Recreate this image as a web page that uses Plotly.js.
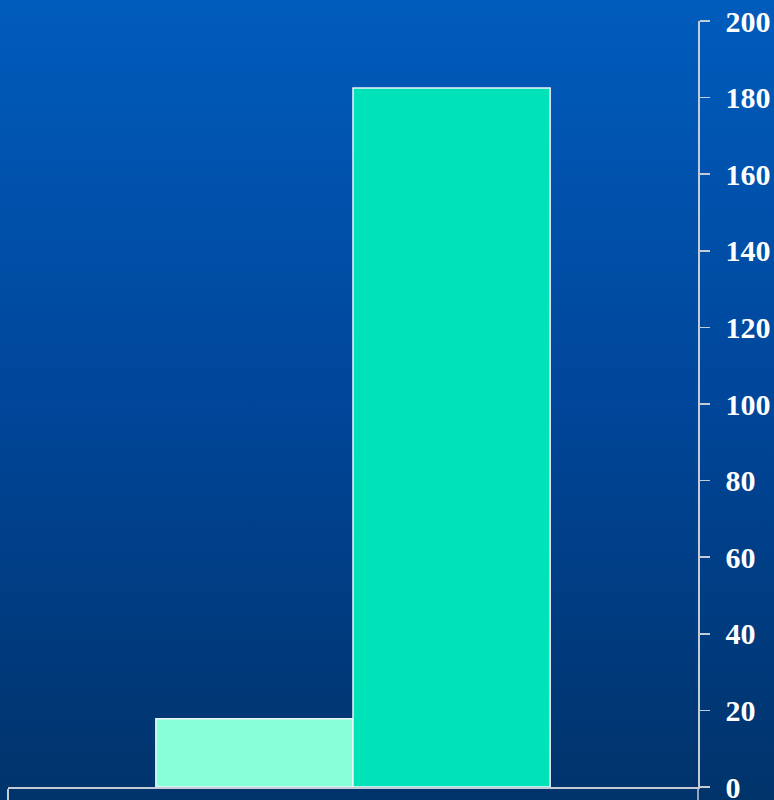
<!DOCTYPE html>
<html>
<head>
<meta charset="utf-8">
<script src="https://cdn.plot.ly/plotly-3.0.1.min.js"></script>
<style>
html, body { margin:0; padding:0; width:774px; height:800px; overflow:hidden;
  background: linear-gradient(to bottom, #005cbc 0%, #00469a 50%, #00336a 100%); }
#chart { width:774px; height:800px; }
</style>
</head>
<body>
<div id="chart"></div>
<script>
const categories = [0, 1];
const values = [17.8, 182.5];
const barColors = ['#88ffd8', '#00e3b8'];
const yTicks = [0, 20, 40, 60, 80, 100, 120, 140, 160, 180, 200];

const trace = {
  type: 'bar',
  x: categories,
  y: values,
  width: 1,
  marker: { color: barColors, line: { color: '#eef4fa', width: 1.5 } },
  hoverinfo: 'skip'
};

const layout = {
  width: 774, height: 800,
  margin: { l: 8, r: 76, t: 21, b: 13, pad: 0 },
  paper_bgcolor: 'rgba(0,0,0,0)',
  plot_bgcolor: 'rgba(0,0,0,0)',
  showlegend: false,
  bargap: 0,
  xaxis: {
    range: [-1.25, 2.25],
    showline: true, linecolor: '#c4ccd8', linewidth: 1.5,
    showgrid: false, zeroline: false,
    tickvals: [-1.25], ticktext: [''],
    ticks: 'outside', ticklen: 14, tickcolor: '#c4ccd8', tickwidth: 1.5,
    fixedrange: true
  },
  yaxis: {
    range: [0, 200],
    side: 'right',
    showline: true, linecolor: '#c4ccd8', linewidth: 1.5,
    showgrid: false, zeroline: false,
    tickvals: yTicks,
    ticktext: yTicks.map(String),
    ticks: 'outside', ticklen: 10, tickcolor: '#c4ccd8', tickwidth: 1.5,
    ticklabelstandoff: 10,
    ticklabeloverflow: 'allow',
    tickfont: { family: 'Liberation Serif, Times New Roman, serif', size: 30, color: '#ffffff', weight: 'bold' },
    fixedrange: true
  },
  shapes: [{
    type: 'line', xref: 'paper', yref: 'paper',
    x0: 1, x1: 1, y0: 0, y1: -0.02,
    line: { color: '#c4ccd8', width: 1.5 }
  }]
};

Plotly.newPlot('chart', [trace], layout, { displayModeBar: false, staticPlot: true });
</script>
</body>
</html>
